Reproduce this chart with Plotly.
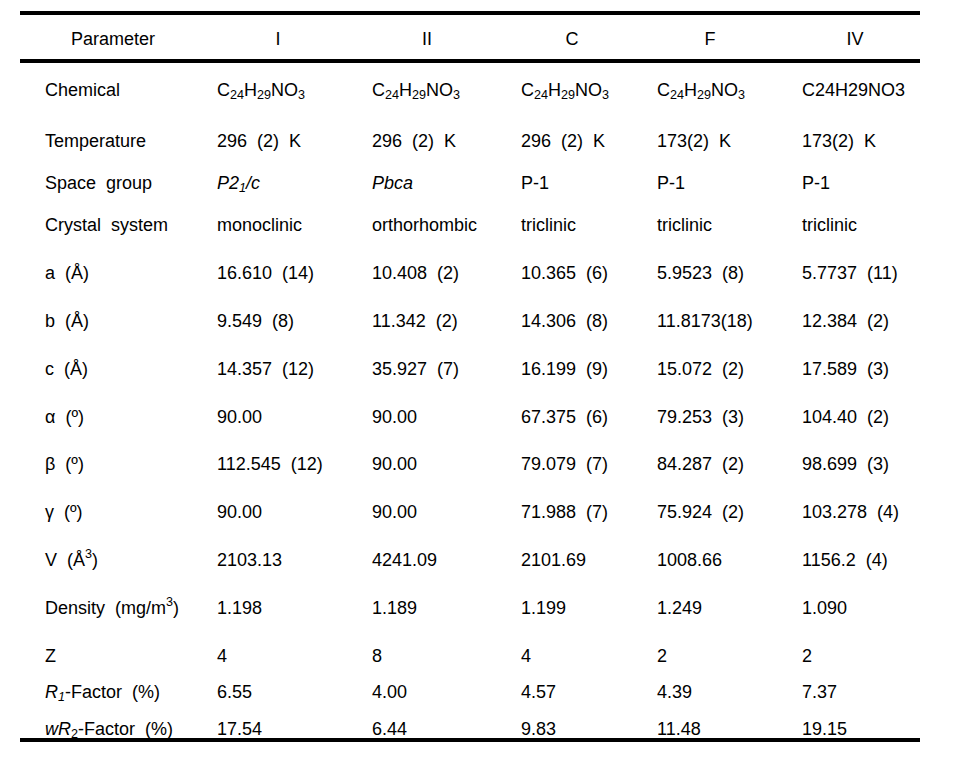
import plotly.graph_objects as go

S = "\u00a0 "  # wide gap as in the source

headers = ["Parameter", "I", "II", "C", "F", "IV"]

parameters = [
    "Chemical", "Temperature", f"Space{S}group", f"Crystal{S}system",
    f"a{S}(Å)", f"b{S}(Å)", f"c{S}(Å)",
    f"α{S}(º)", f"β{S}(º)", f"γ{S}(º)",
    f"V{S}(Å<sup>3</sup>)", f"Density{S}(mg/m<sup>3</sup>)", "Z",
    f"<i>R<sub>1</sub></i>-Factor{S}(%)", f"<i>wR</i><sub>2</sub>-Factor{S}(%)",
]

formula = "C<sub>24</sub>H<sub>29</sub>NO<sub>3</sub>"

col_I = [formula, f"296{S}(2){S}K", "<i>P2<sub>1</sub>/c</i>", "monoclinic",
         f"16.610{S}(14)", f"9.549{S}(8)", f"14.357{S}(12)",
         "90.00", f"112.545{S}(12)", "90.00", "2103.13", "1.198", "4", "6.55", "17.54"]
col_II = [formula, f"296{S}(2){S}K", "<i>Pbca</i>", "orthorhombic",
          f"10.408{S}(2)", f"11.342{S}(2)", f"35.927{S}(7)",
          "90.00", "90.00", "90.00", "4241.09", "1.189", "8", "4.00", "6.44"]
col_C = [formula, f"296{S}(2){S}K", "P-1", "triclinic",
         f"10.365{S}(6)", f"14.306{S}(8)", f"16.199{S}(9)",
         f"67.375{S}(6)", f"79.079{S}(7)", f"71.988{S}(7)", "2101.69", "1.199", "4", "4.57", "9.83"]
col_F = [formula, f"173(2){S}K", "P-1", "triclinic",
         f"5.9523{S}(8)", "11.8173(18)", f"15.072{S}(2)",
         f"79.253{S}(3)", f"84.287{S}(2)", f"75.924{S}(2)", "1008.66", "1.249", "2", "4.39", "11.48"]
col_IV = ["C24H29NO3", f"173(2){S}K", "P-1", "triclinic",
          f"5.7737{S}(11)", f"12.384{S}(2)", f"17.589{S}(3)",
          f"104.40{S}(2)", f"98.699{S}(3)", f"103.278{S}(4)", f"1156.2{S}(4)", "1.090", "2", "7.37", "19.15"]

# ---- layout (pixel geometry of the table) ----
W, H = 962, 764
PAGE_OFF = 8          # browser body margin
TEXT_DY = 2           # plotly places 'middle' text slightly high
row_y = [89, 140, 182, 224, 272, 320, 368, 416, 463, 511, 559, 607, 655, 691, 728]
header_y = 38
col_left = [45, 217, 372, 521, 657, 802]
header_x = [113, 278, 427, 572, 710, 855]
FONT = dict(family="Liberation Sans, Arial, sans-serif", size=18, color="#000000")

columns = [parameters, col_I, col_II, col_C, col_F, col_IV]

fig = go.Figure()
fig.add_trace(go.Scatter(
    x=header_x, y=[header_y + TEXT_DY] * len(headers), text=headers, mode="text",
    textposition="middle center", textfont=FONT, hoverinfo="skip", showlegend=False))
for cx, col in zip(col_left, columns):
    fig.add_trace(go.Scatter(
        x=[cx] * len(col), y=[r + TEXT_DY for r in row_y], text=col, mode="text",
        textposition="middle right", textfont=FONT, hoverinfo="skip", showlegend=False))

for y in (13, 61, 740):
    fig.add_shape(type="line", x0=20, x1=920, y0=y, y1=y, xref="x", yref="y",
                  line=dict(color="black", width=4))

fig.update_layout(
    width=W, height=H, margin=dict(l=0, r=0, t=0, b=0),
    paper_bgcolor="white", plot_bgcolor="white",
    xaxis=dict(range=[PAGE_OFF, W + PAGE_OFF], visible=False, fixedrange=True),
    yaxis=dict(range=[H + PAGE_OFF, PAGE_OFF], visible=False, fixedrange=True),
)
fig.write_html("out.html")
